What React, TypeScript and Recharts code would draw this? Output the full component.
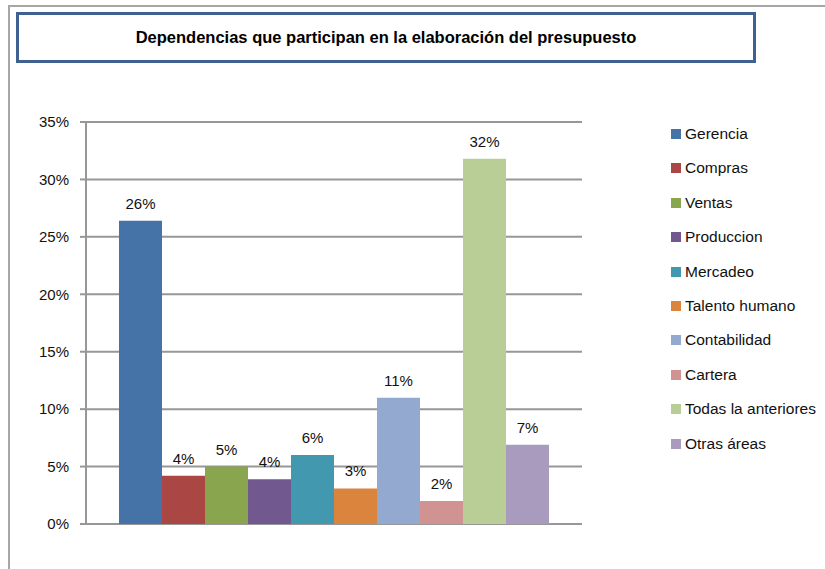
import React from 'react';
import { BarChart, Bar, XAxis, YAxis, CartesianGrid, LabelList } from 'recharts';

const title = 'Dependencias que participan en la elaboración del presupuesto';
const seriesNames = [
  'Gerencia',
  'Compras',
  'Ventas',
  'Produccion',
  'Mercadeo',
  'Talento humano',
  'Contabilidad',
  'Cartera',
  'Todas la anteriores',
  'Otras áreas',
];
const seriesValues = [26.4, 4.2, 5.0, 3.9, 6.0, 3.1, 11.0, 2.0, 31.8, 6.9];
const seriesColors = [
  '#4572A7',
  '#AA4643',
  '#89A54E',
  '#71588F',
  '#4198AF',
  '#DB843D',
  '#93A9CF',
  '#D19392',
  '#B9CD96',
  '#A99BBD',
];
const yTicks = [0, 5, 10, 15, 20, 25, 30, 35];

const row: Record<string, any> = { name: '' };
seriesNames.forEach((_, i) => {
  row['s' + i] = seriesValues[i];
});
const data = [row];

const FONT = '"Liberation Sans", Arial, sans-serif';

export default function App() {
  return (
    <div
      style={{
        position: 'absolute',
        left: 0,
        top: 0,
        width: 825,
        height: 569,
        background: '#fff',
        fontFamily: FONT,
        overflow: 'hidden',
      }}
    >
      <div
        style={{
          position: 'absolute',
          left: 8,
          top: 5,
          width: 830,
          height: 580,
          borderLeft: '2px solid #a6a6a6',
          borderTop: '2px solid #a6a6a6',
        }}
      />
      <div
        style={{
          position: 'absolute',
          left: 16,
          top: 12,
          width: 734,
          height: 45,
          border: '3px solid #3E6190',
          display: 'flex',
          alignItems: 'center',
          justifyContent: 'center',
          fontWeight: 'bold',
          fontSize: 16.5,
          color: '#000',
          boxSizing: 'content-box',
        }}
      >
        {title}
      </div>
      <div style={{ position: 'absolute', left: 0, top: 0 }}>
        <BarChart
          width={825}
          height={569}
          data={data}
          margin={{ top: 122, right: 243, bottom: 45, left: 0 }}
          barGap={0}
        >
          <CartesianGrid horizontal vertical={false} stroke="#979797" strokeWidth={2} />
          <XAxis
            dataKey="name"
            height={0}
            tick={false}
            tickLine={false}
            axisLine={{ stroke: '#979797', strokeWidth: 2 }}
          />
          <YAxis
            width={86}
            domain={[0, 35]}
            ticks={yTicks}
            interval={0}
            tickFormatter={(v: number) => `${v}%`}
            tickSize={6}
            tickMargin={11}
            tickLine={{ stroke: '#979797', strokeWidth: 2 }}
            axisLine={{ stroke: '#979797', strokeWidth: 2 }}
            tick={{ fill: '#111', fontSize: 15, fontFamily: FONT }}
          />
          {seriesNames.map((n, i) => (
            <Bar
              key={n}
              dataKey={'s' + i}
              name={n}
              fill={seriesColors[i]}
              barSize={43}
              isAnimationActive={false}
            >
              <LabelList
                dataKey={'s' + i}
                position="top"
                offset={12}
                formatter={(v: any) => `${Math.round(Number(v))}%`}
                style={{ fill: '#111', fontSize: 15, fontFamily: FONT }}
              />
            </Bar>
          ))}
        </BarChart>
      </div>
      {seriesNames.map((n, i) => (
        <div
          key={n}
          style={{
            position: 'absolute',
            left: 671,
            top: 134 + i * 34.4 - 10,
            height: 20,
            display: 'flex',
            alignItems: 'center',
            fontSize: 15.5,
            color: '#111',
            whiteSpace: 'nowrap',
          }}
        >
          <span
            style={{
              display: 'inline-block',
              width: 10,
              height: 10,
              background: seriesColors[i],
              marginRight: 4,
            }}
          />
          {n}
        </div>
      ))}
    </div>
  );
}
